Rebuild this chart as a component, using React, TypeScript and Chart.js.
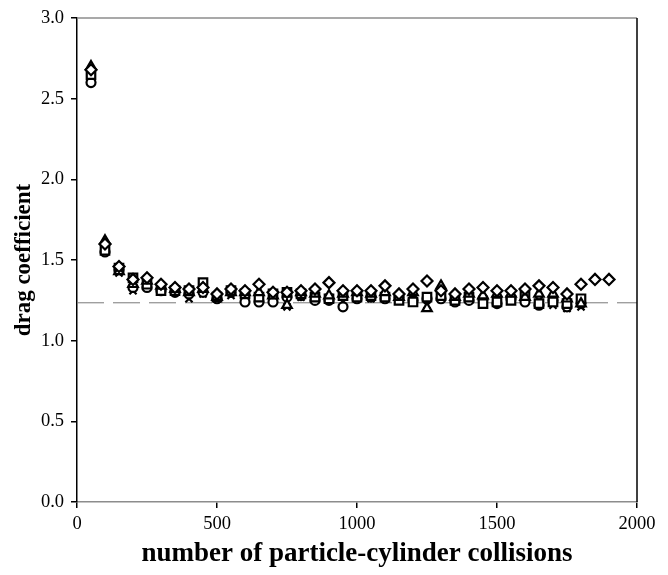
import { useEffect, useRef } from "react";
import { Chart, registerables } from "chart.js";

Chart.register(...registerables);

// number of particle-cylinder collisions
const collisions = [
  50, 100, 150, 200, 250, 300, 350, 400, 450, 500, 550, 600, 650, 700, 750, 800, 850, 900,
  950, 1000, 1050, 1100, 1150, 1200, 1250, 1300, 1350, 1400, 1450, 1500, 1550, 1600, 1650,
  1700, 1750, 1800,
];
const diamondCollisions = [...collisions, 1850, 1900];

// drag coefficient per series
const diamondValues = [
  2.68, 1.6, 1.46, 1.38, 1.39, 1.35, 1.33, 1.32, 1.33, 1.29, 1.32, 1.31, 1.35, 1.3, 1.3, 1.31,
  1.32, 1.36, 1.31, 1.31, 1.31, 1.34, 1.29, 1.32, 1.37, 1.31, 1.29, 1.32, 1.33, 1.31, 1.31,
  1.32, 1.34, 1.33, 1.29, 1.35, 1.38, 1.38,
];
const triangleValues = [
  2.7, 1.62, 1.43, 1.35, 1.37, 1.34, 1.32, 1.3, 1.32, 1.27, 1.3, 1.3, 1.3, 1.28, 1.22, 1.3,
  1.29, 1.28, 1.29, 1.3, 1.29, 1.3, 1.27, 1.3, 1.2, 1.34, 1.27, 1.29, 1.28, 1.29, 1.29, 1.27,
  1.29, 1.29, 1.26, 1.23,
];
const squareValues = [
  2.65, 1.56, 1.45, 1.39, 1.35, 1.31, 1.31, 1.31, 1.36, 1.27, 1.31, 1.29, 1.27, 1.29, 1.3,
  1.29, 1.27, 1.26, 1.28, 1.27, 1.28, 1.27, 1.25, 1.24, 1.27, 1.28, 1.25, 1.27, 1.23, 1.24,
  1.25, 1.28, 1.23, 1.24, 1.23, 1.26,
];
const circleValues = [
  2.6, 1.55, 1.44, 1.33, 1.33, 1.31, 1.3, 1.29, 1.3, 1.26, 1.3, 1.24, 1.24, 1.24, 1.27, 1.28,
  1.25, 1.25, 1.21, 1.26, 1.27, 1.26, 1.27, 1.25, 1.26, 1.26, 1.24, 1.25, 1.26, 1.23, 1.26,
  1.24, 1.22, 1.25, 1.21, 1.23,
];
const crossValues = [
  2.63, 1.55, 1.42, 1.31, 1.34, 1.33, 1.3, 1.26, 1.29, 1.28, 1.28, 1.27, 1.24, 1.26, 1.21,
  1.27, 1.26, 1.27, 1.24, 1.27, 1.26, 1.28, 1.26, 1.26, 1.22, 1.3, 1.25, 1.26, 1.24, 1.25,
  1.27, 1.24, 1.25, 1.22, 1.2, 1.21,
];

const referenceDrag = 1.235;
const referenceRange = [0, 2000];

const xTicks = [0, 500, 1000, 1500, 2000];
const yTicks = [0, 0.5, 1.0, 1.5, 2.0, 2.5, 3.0];

const toPoints = (xs: number[], ys: number[]) => ys.map((y, i) => ({ x: xs[i], y }));

const FONT = "'Liberation Serif', 'DejaVu Serif', serif";

const frame = {
  id: "frame",
  afterDraw(chart: any) {
    const { ctx, chartArea } = chart;
    ctx.save();
    ctx.lineWidth = 1.5;
    ctx.strokeStyle = "#8c8c8c";
    ctx.beginPath();
    ctx.moveTo(chartArea.left, chartArea.top);
    ctx.lineTo(chartArea.right, chartArea.top);
    ctx.stroke();
    ctx.strokeStyle = "#000";
    ctx.beginPath();
    ctx.moveTo(chartArea.right, chartArea.top);
    ctx.lineTo(chartArea.right, chartArea.bottom);
    ctx.stroke();
    ctx.restore();
  },
};

export default function App() {
  const ref = useRef<HTMLCanvasElement | null>(null);

  useEffect(() => {
    if (!ref.current) return;
    const marker = (label: string, style: string, xs: number[], ys: number[], radius: number) => ({
      type: "scatter" as const,
      label,
      data: toPoints(xs, ys),
      pointStyle: style,
      pointRadius: radius,
      borderColor: "#000",
      backgroundColor: "#fff",
      pointBorderWidth: 2.2,
      borderWidth: 2.2,
      showLine: false,
      order: 1,
    });
    const chart = new Chart(ref.current, {
      type: "scatter",
      data: {
        datasets: [
          marker("diamond", "rectRot", diamondCollisions, diamondValues, 5.5),
          marker("triangle", "triangle", collisions, triangleValues, 5.5),
          marker("square", "rect", collisions, squareValues, 6),
          marker("circle", "circle", collisions, circleValues, 4.5),
          marker("cross", "crossRot", collisions, crossValues, 5),
          {
            type: "line" as const,
            label: "reference",
            data: referenceRange.map((x) => ({ x, y: referenceDrag })),
            borderColor: "#7a7a7a",
            borderWidth: 1,
            borderDash: [27, 9],
            pointRadius: 0,
            fill: false,
            order: 10,
          } as any,
        ],
      },
      options: {
        animation: false,
        responsive: false,
        maintainAspectRatio: false,
        layout: { padding: { top: 16, right: 31, left: 0, bottom: 0 } },
        plugins: { legend: { display: false }, tooltip: { enabled: false } },
        scales: {
          x: {
            type: "linear",
            min: 0,
            max: 2000,
            afterBuildTicks: (scale: any) => {
              scale.ticks = xTicks.map((value) => ({ value }));
            },
            afterFit: (scale: any) => {
              scale.height = 73;
            },
            ticks: {
              color: "#000",
              font: { family: FONT, size: 18.5 },
              padding: 5.5,
              maxRotation: 0,
              autoSkip: false,
              callback: (v: any) => String(v),
            },
            grid: {
              drawOnChartArea: false,
              drawTicks: true,
              tickLength: 6,
              color: "#000",
              lineWidth: 1.5,
            },
            border: { color: "#8c8c8c", width: 1.5 },
            title: {
              display: true,
              text: "number of particle-cylinder collisions",
              color: "#000",
              font: { family: FONT, size: 27, weight: "bold" },
              padding: { top: 0, bottom: 5 },
            },
          },
          y: {
            type: "linear",
            min: 0,
            max: 3,
            afterBuildTicks: (scale: any) => {
              scale.ticks = yTicks.map((value) => ({ value }));
            },
            afterFit: (scale: any) => {
              scale.width = 77;
            },
            ticks: {
              color: "#000",
              font: { family: FONT, size: 18.5 },
              padding: 7,
              callback: (v: any) => Number(v).toFixed(1),
            },
            grid: {
              drawOnChartArea: false,
              drawTicks: true,
              tickLength: 6,
              color: "#000",
              lineWidth: 1.5,
            },
            border: { color: "#000", width: 1.5 },
            title: {
              display: true,
              text: "drag coefficient",
              color: "#000",
              font: { family: FONT, size: 23, weight: "bold" },
              padding: { top: 10, bottom: 0 },
            },
          },
        },
      },
      plugins: [frame],
    } as any);
    return () => chart.destroy();
  }, []);

  return (
    <div style={{ position: "fixed", left: 0, top: 0, width: 668, height: 575, background: "#fff" }}>
      <canvas ref={ref} width={668} height={575} style={{ width: 668, height: 575 }} />
    </div>
  );
}
